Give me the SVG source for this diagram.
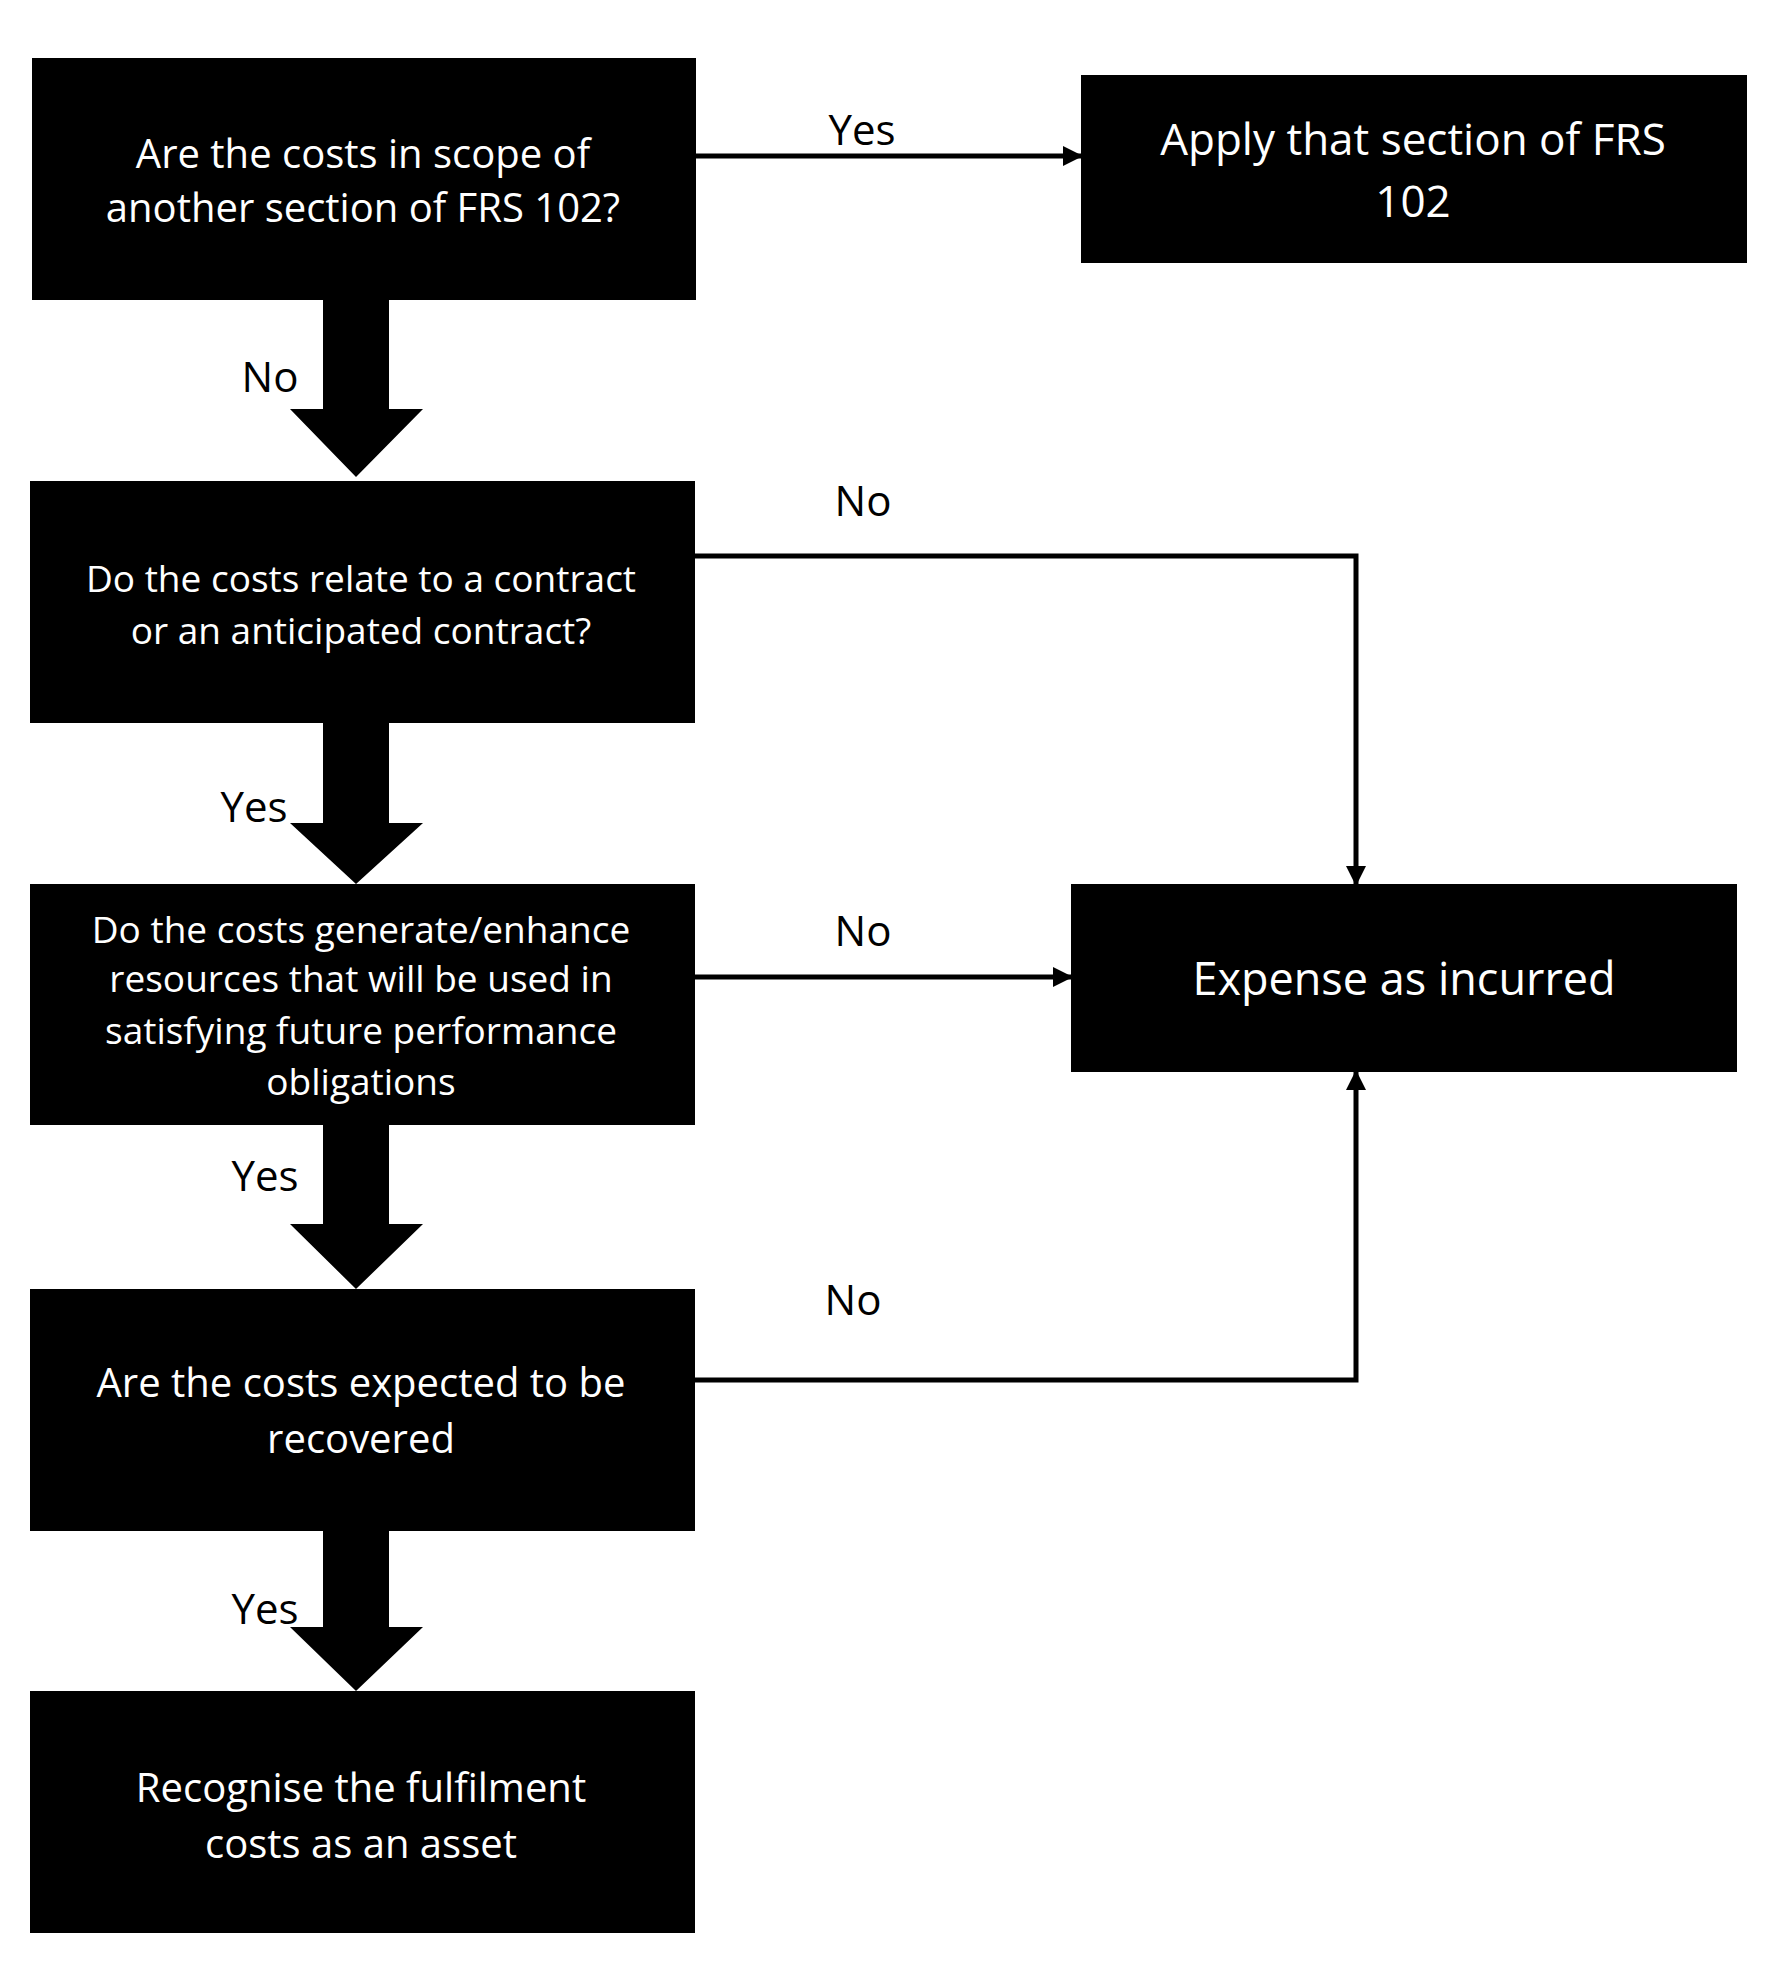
<svg xmlns="http://www.w3.org/2000/svg" width="1780" height="1982" viewBox="0 0 1780 1982">
<defs>
<style>
.box{fill:#000}
.t{fill:#fff;font-family:"Open Sans","Noto Sans",sans-serif;text-anchor:middle;dominant-baseline:central}
.l{fill:#000;font-family:"Open Sans","Noto Sans",sans-serif;font-size:42px;text-anchor:middle;dominant-baseline:central}
.ln{stroke:#000;stroke-width:5;fill:none}
</style>
<marker id="ah" viewBox="0 0 10 10" refX="9" refY="5" markerWidth="4" markerHeight="4" orient="auto" markerUnits="strokeWidth"><path d="M0,0L10,5L0,10z" fill="#000"/></marker>
</defs>
<rect width="1780" height="1982" fill="#fff"/>
<g id="connectors">
<path class="box" d="M323,300H389V409H423L356,477L290,409H323Z"/>
<path class="box" d="M323,723H389V823H423L356,884L290,823H323Z"/>
<path class="box" d="M323,1125H389V1224H423L356,1289L290,1224H323Z"/>
<path class="box" d="M323,1531H389V1627H423L356,1691L290,1627H323Z"/>
<path class="ln" d="M696,156H1081" marker-end="url(#ah)"/>
<path class="ln" d="M695,556H1356V884" marker-end="url(#ah)"/>
<path class="ln" d="M695,977H1071" marker-end="url(#ah)"/>
<path class="ln" d="M695,1380H1356V1072" marker-end="url(#ah)"/>
<text class="l" x="862" y="128">Yes</text>
<text class="l" x="270" y="375">No</text>
<text class="l" x="863" y="499">No</text>
<text class="l" x="254" y="805">Yes</text>
<text class="l" x="863" y="929">No</text>
<text class="l" x="265" y="1174">Yes</text>
<text class="l" x="853" y="1298">No</text>
<text class="l" x="265" y="1607">Yes</text>
</g>
<g id="n1"><rect class="box" x="32" y="58" width="664" height="242"/><text class="t" font-size="40" x="363" y="152">Are the costs in scope of</text><text class="t" font-size="40" x="363" y="206">another section of FRS 102?</text></g>
<g id="n2"><rect class="box" x="1081" y="75" width="666" height="188"/><text class="t" font-size="44" x="1413" y="138">Apply that section of FRS</text><text class="t" font-size="44" x="1413" y="200">102</text></g>
<g id="n3"><rect class="box" x="30" y="481" width="665" height="242"/><text class="t" font-size="37" x="361" y="577">Do the costs relate to a contract</text><text class="t" font-size="37" x="361" y="629">or an anticipated contract?</text></g>
<g id="n4"><rect class="box" x="30" y="884" width="665" height="241"/><text class="t" font-size="37" x="361" y="928">Do the costs generate/enhance</text><text class="t" font-size="37" x="361" y="977">resources that will be used in</text><text class="t" font-size="37" x="361" y="1029">satisfying future performance</text><text class="t" font-size="37" x="361" y="1080">obligations</text></g>
<g id="n5"><rect class="box" x="1071" y="884" width="666" height="188"/><text class="t" font-size="45" x="1404" y="977">Expense as incurred</text></g>
<g id="n6"><rect class="box" x="30" y="1289" width="665" height="242"/><text class="t" font-size="40" x="361" y="1381">Are the costs expected to be</text><text class="t" font-size="40" x="361" y="1437">recovered</text></g>
<g id="n7"><rect class="box" x="30" y="1691" width="665" height="242"/><text class="t" font-size="40" x="361" y="1786">Recognise the fulfilment</text><text class="t" font-size="40" x="361" y="1842">costs as an asset</text></g>
</svg>
